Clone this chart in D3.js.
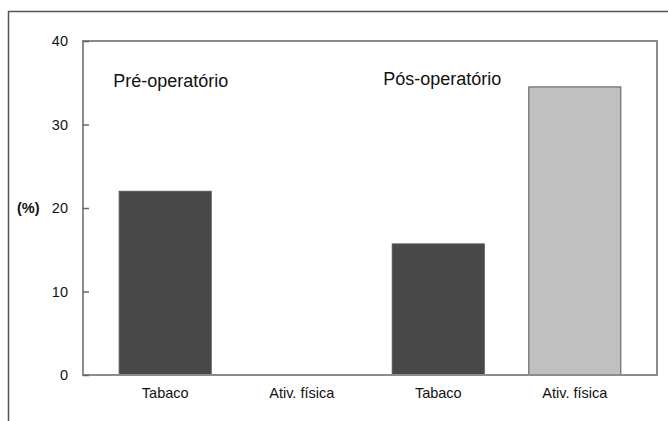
<!DOCTYPE html>
<html>
<head>
<meta charset="utf-8">
<script src="https://cdn.jsdelivr.net/npm/d3@7"></script>
<style>
  body { margin: 0; background: #fff; }
  text { font-family: "Liberation Sans", Arial, sans-serif; fill: #111; }
</style>
</head>
<body>
<div id="chart"></div>
<script>
var categories = ["Tabaco (pré)", "Ativ. física (pré)", "Tabaco (pós)", "Ativ. física (pós)"];
var tickLabels = ["Tabaco", "Ativ. física", "Tabaco", "Ativ. física"];
var values = [22.0, 0, 15.7, 34.5];
var barColors = ["#484848", "#484848", "#484848", "#c0c0c0"];
var groupLabels = ["Pré-operatório", "Pós-operatório"];
var yTicks = [0, 10, 20, 30, 40];

var W = 668, H = 421;
var margin = {top: 41, right: 11, bottom: 46, left: 83},
    width = W - margin.left - margin.right,
    height = H - margin.top - margin.bottom;

var svg = d3.select("#chart").append("svg")
    .attr("width", W)
    .attr("height", H);

// outer frame (only top and left edges show)
svg.append("path")
    .attr("d", "M8.5,421 V11.5 H668")
    .attr("fill", "none")
    .attr("stroke", "#555")
    .attr("stroke-width", 1.5);

var g = svg.append("g")
    .attr("transform", "translate(" + margin.left + "," + margin.top + ")");

var xScale = d3.scaleBand()
    .domain(categories)
    .range([0, width])
    .paddingInner(0.326)
    .paddingOuter(0.265);

var yScale = d3.scaleLinear()
    .domain([0, 40])
    .range([height, 0]);

// bars
g.selectAll("rect.bar")
    .data(categories.map(function(c, i) { return {c: c, v: values[i], col: barColors[i]}; })
        .filter(function(d) { return d.v > 0; }))
    .enter().append("rect")
    .attr("class", "bar")
    .attr("x", function(d) { return xScale(d.c); })
    .attr("y", function(d) { return yScale(d.v); })
    .attr("width", xScale.bandwidth())
    .attr("height", function(d) { return height - yScale(d.v); })
    .attr("fill", function(d) { return d.col; })
    .attr("stroke", "#555")
    .attr("stroke-width", 1);

// plot box
g.append("rect")
    .attr("x", 0).attr("y", 0)
    .attr("width", width).attr("height", height)
    .attr("fill", "none")
    .attr("stroke", "#8c8c8c")
    .attr("stroke-width", 2);

// y axis, ticks point inward
var yAxis = d3.axisRight(yScale)
    .tickValues(yTicks)
    .tickSize(6)
    .tickPadding(-21);

var ya = g.append("g").call(yAxis);
ya.select(".domain").remove();
ya.selectAll(".tick line").attr("stroke", "#666").attr("stroke-width", 1.5);
ya.selectAll(".tick text")
    .attr("text-anchor", "end")
    .style("font-size", "14.5px")
    .attr("fill", "#111");

// x axis labels
var xAxis = d3.axisBottom(xScale)
    .tickSize(0)
    .tickPadding(13)
    .tickFormat(function(d, i) { return tickLabels[i]; });

var xa = g.append("g")
    .attr("transform", "translate(0," + height + ")")
    .call(xAxis);
xa.select(".domain").remove();
xa.selectAll(".tick text").style("font-size", "14.5px").attr("fill", "#111");

// y label
svg.append("text")
    .attr("x", 17)
    .attr("y", 213)
    .style("font-size", "14.5px")
    .style("font-weight", "bold")
    .text("(%)");

// group labels
g.append("text")
    .attr("x", xScale(categories[0]) - 6)
    .attr("y", 46)
    .style("font-size", "18px")
    .text(groupLabels[0]);

g.append("text")
    .attr("x", xScale(categories[2]) - 9)
    .attr("y", 44)
    .style("font-size", "18px")
    .text(groupLabels[1]);
</script>
</body>
</html>
